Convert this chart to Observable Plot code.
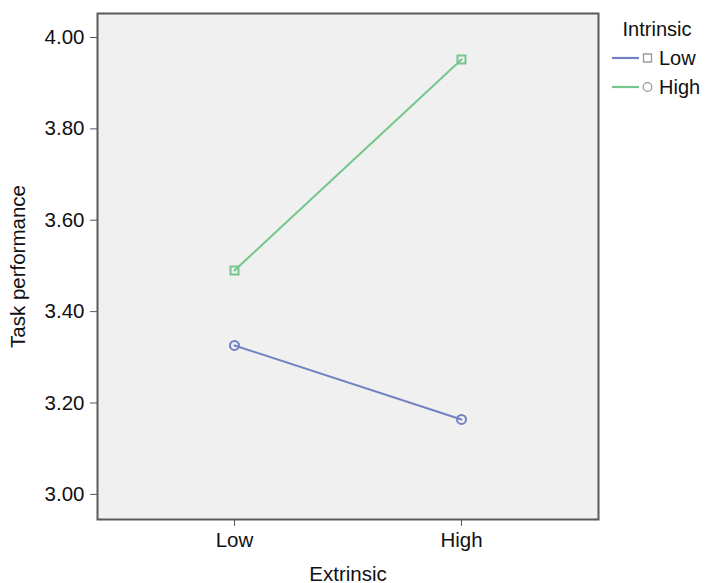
<!DOCTYPE html>
<html>
<head>
<meta charset="utf-8">
<script src="https://cdn.jsdelivr.net/npm/d3@7"></script>
<script src="https://cdn.jsdelivr.net/npm/@observablehq/plot@0.6"></script>
<style>
  html, body { margin: 0; padding: 0; background: #fff; }
  #wrap { position: relative; width: 706px; height: 583px; font-family: "Liberation Sans", Arial, sans-serif; }
  #legend { position: absolute; left: 0; top: 0; }
</style>
</head>
<body>
<div id="wrap"></div>
<script>
const extrinsic = ["Low", "High"];
const intrinsicLevels = ["Low", "High"];
const lowIntrinsic = [3.326, 3.164];   // blue line, circles
const highIntrinsic = [3.490, 3.952];  // green line, squares
const yTicks = [3.0, 3.2, 3.4, 3.6, 3.8, 4.0];
const colors = ["#7381c2", "#74c68c"];
const plotSymbols = ["circle", "square"];
const legendSymbols = ["square", "circle"];

const data = [];
extrinsic.forEach((e, i) => {
  data.push({extrinsic: e, intrinsic: "Low", value: lowIntrinsic[i]});
  data.push({extrinsic: e, intrinsic: "High", value: highIntrinsic[i]});
});

const fontSize = 20.5;
const chart = Plot.plot({
  width: 706,
  height: 583,
  marginLeft: 97,
  marginRight: 108,
  marginTop: 13,
  marginBottom: 64,
  style: {fontFamily: '"Liberation Sans", Arial, sans-serif', fontSize: fontSize + "px", color: "#111", background: "#fff"},
  x: {type: "point", domain: extrinsic, padding: 0.6},
  y: {domain: [2.945, 4.0525]},
  color: {domain: intrinsicLevels, range: colors},
  symbol: {domain: intrinsicLevels, range: plotSymbols},
  marks: [
    Plot.frame({fill: "#f0f0f0", stroke: null}),
    Plot.line(data, {x: "extrinsic", y: "value", z: "intrinsic", stroke: "intrinsic", strokeWidth: 2}),
    Plot.dot(data, {x: "extrinsic", y: "value", stroke: "intrinsic", symbol: "intrinsic", r: 4.5, strokeWidth: 2, fill: "none"}),
    Plot.axisY({ticks: yTicks, tickFormat: d3.format(".2f"), tickSize: 7, tickPadding: 6, stroke: "#555",
      label: "Task performance", labelAnchor: "center", labelArrow: "none", labelOffset: 87, fontSize: fontSize}),
    Plot.axisX({tickSize: 7, tickPadding: 6, stroke: "#555",
      label: "Extrinsic", labelAnchor: "center", labelArrow: "none", labelOffset: 61, fontSize: fontSize}),
    Plot.frame({stroke: "#5a5a5a", strokeWidth: 2})
  ]
});
const wrap = document.getElementById("wrap");
wrap.appendChild(chart);

// Legend (as drawn in the original)
const lg = d3.select(wrap).append("svg").attr("id", "legend").attr("width", 706).attr("height", 583)
  .style("font-family", '"Liberation Sans", Arial, sans-serif').style("font-size", "20px");
lg.append("text").attr("x", 657).attr("y", 29).attr("text-anchor", "middle").attr("dominant-baseline", "central").attr("fill", "#111").text("Intrinsic");
const rowsY = [58, 87];
intrinsicLevels.forEach((lvl, i) => {
  const y = rowsY[i];
  lg.append("line").attr("x1", 612).attr("x2", 639).attr("y1", y).attr("y2", y).attr("stroke", colors[i]).attr("stroke-width", 2.2);
  const sym = d3.symbol(legendSymbols[i] === "square" ? d3.symbolSquare : d3.symbolCircle, legendSymbols[i] === "square" ? 64 : 60);
  lg.append("path").attr("d", sym()).attr("transform", `translate(647.5,${y})`).attr("fill", "none").attr("stroke", "#9a9a9a").attr("stroke-width", 1.3);
  lg.append("text").attr("x", 659).attr("y", y).attr("dominant-baseline", "central").attr("fill", "#111").text(lvl);
});
</script>
</body>
</html>
